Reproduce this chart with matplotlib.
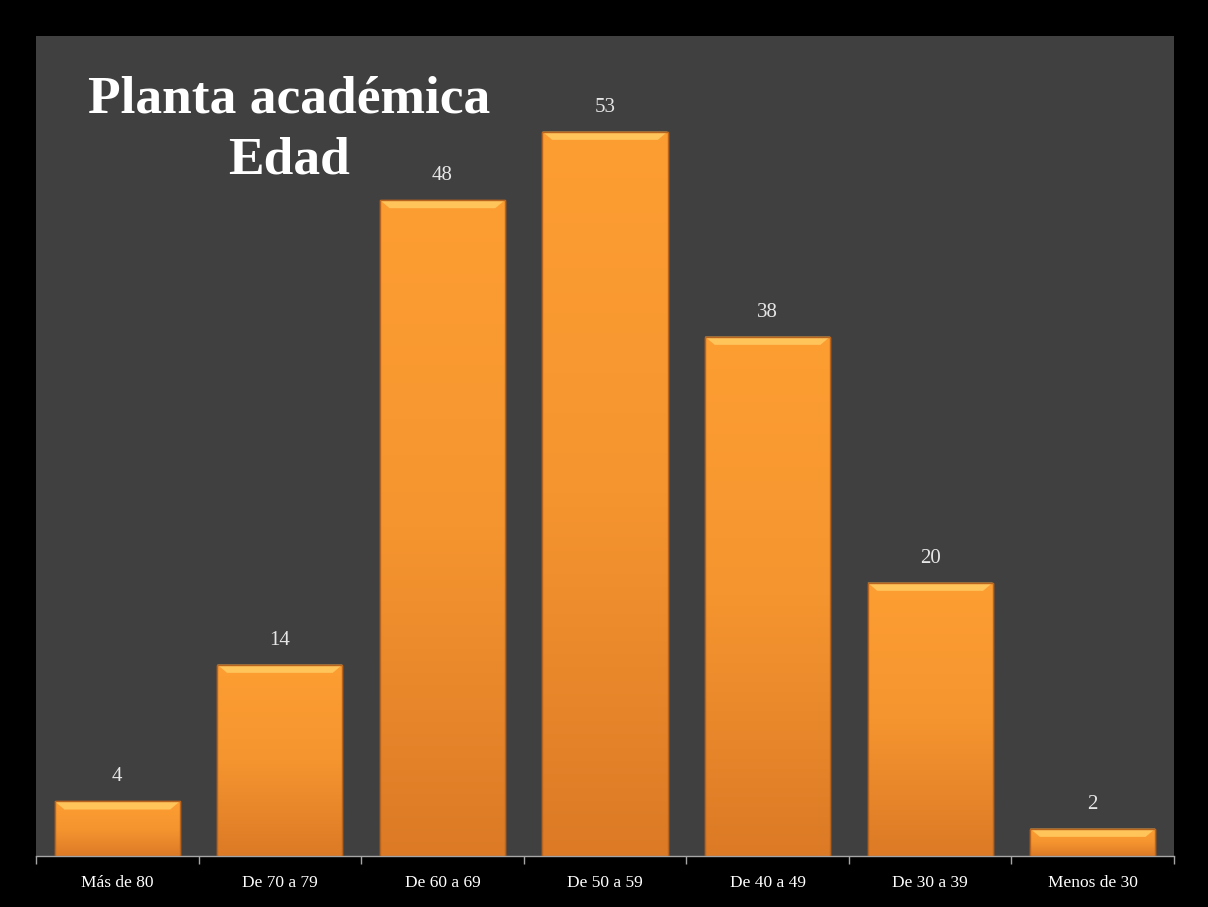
import numpy as np
import matplotlib.pyplot as plt
from matplotlib.patches import Polygon
from matplotlib.colors import LinearSegmentedColormap

categories = ['Más de 80', 'De 70 a 79', 'De 60 a 69', 'De 50 a 59',
              'De 40 a 49', 'De 30 a 39', 'Menos de 30']
values = [4, 14, 48, 53, 38, 20, 2]
title_lines = ['Planta académica', 'Edad']

bg = '#404040'
serif = ['Liberation Serif', 'DejaVu Serif']

fig = plt.figure(figsize=(12.08, 9.07), dpi=100, facecolor='black')
ax = fig.add_axes([36 / 1208, 51 / 907, (1174 - 36) / 1208, (856 - 36) / 907])
ax.set_facecolor(bg)

x = np.arange(len(categories))
bars = ax.bar(x, values, width=0.77, color='#F39330', edgecolor='#C86A1E',
              linewidth=1.0, zorder=2)

ax.set_xlim(-0.5, len(categories) - 0.5)
ax.set_ylim(0, 60)

# vertical orange gradient inside each bar (light at top, darker at bottom)
cmap = LinearSegmentedColormap.from_list('orng', ['#FD9E32', '#F5952F', '#DC7A26'])
grad = np.linspace(0, 1, 256).reshape(-1, 1)
for b in bars:
    x0, w, h = b.get_x(), b.get_width(), b.get_height()
    im = ax.imshow(grad, cmap=cmap, aspect='auto', extent=(x0, x0 + w, 0, h),
                   origin='upper', zorder=2.5, interpolation='bicubic')
    im.set_clip_path(b)
    # light bevel along the top edge
    dy = 0.6
    dx = 0.06
    bevel = Polygon([(x0, h), (x0 + w, h), (x0 + w - dx, h - dy), (x0 + dx, h - dy)],
                    closed=True, facecolor='#FFC45A', edgecolor='none', zorder=3)
    ax.add_patch(bevel)
    ax.add_patch(plt.Rectangle((x0, 0), w, h, fill=False, edgecolor='#B8641E',
                               linewidth=1.0, zorder=3.5))
    ax.text(x0 + w / 2, h + 1.1, str(int(h)), ha='center', va='bottom',
            color='#E6E6E6', fontsize=15, family=serif, zorder=4)

for s in ['top', 'right', 'left']:
    ax.spines[s].set_visible(False)
ax.spines['bottom'].set_color('#A6A6A6')
ax.spines['bottom'].set_linewidth(1.0)

ax.set_yticks([])
ax.set_xticks(x)
ax.set_xticklabels(categories, color='white', fontsize=12.5, family=serif)
ax.tick_params(axis='x', which='major', length=0, pad=14)
ax.set_xticks(np.arange(len(categories) + 1) - 0.5, minor=True)
ax.tick_params(axis='x', which='minor', length=6, color='#A6A6A6', width=1.0)

# title, one text per line
for line, yy in zip(title_lines, [0.922, 0.848]):
    ax.text(0.222, yy, line, transform=ax.transAxes, ha='center', va='center',
            color='white', fontsize=38.5, fontweight='bold', family=serif, zorder=5)

plt.savefig('out.png', dpi=100, facecolor='black')
